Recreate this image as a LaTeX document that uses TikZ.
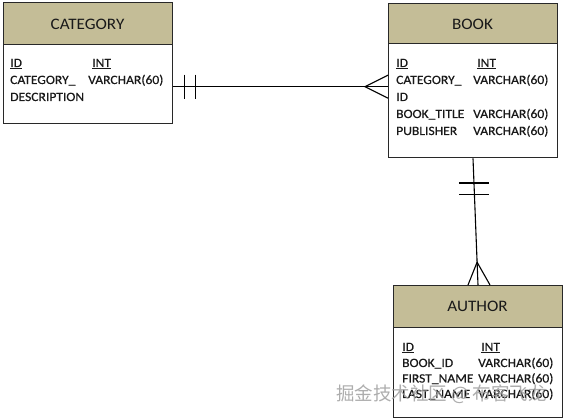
\documentclass[tikz,border=0pt]{standalone}
\usepackage{fontspec}
\setmainfont{Carlito}[FakeStretch=1.07]
\newfontfamily\erfont{Carlito}[FakeStretch=1.07,FakeBold=0.45]
\newfontfamily\cjkfont{Noto Sans CJK SC}
\usetikzlibrary{calc}
\definecolor{headtan}{RGB}{196,189,151}
\definecolor{boxline}{RGB}{40,40,40}
\definecolor{txt}{RGB}{25,25,25}
\begin{document}
\begin{tikzpicture}[x=1pt,y=-1pt,
  entity/.style={draw=boxline,line width=1.3pt,fill=white,rectangle,inner sep=0pt,anchor=north west,minimum width=169pt},
  headbar/.style={draw=boxline,line width=1.3pt,fill=headtan,rectangle,inner sep=0pt,anchor=north west,minimum width=169pt},
  etitle/.style={font=\fontsize{16}{16}\selectfont,anchor=base,inner sep=0pt,text=txt},
  field/.style={font=\erfont\fontsize{12.7}{12.7}\selectfont,anchor=base west,inner sep=0pt,text=txt},
  rel/.style={line width=1.1pt,black}]
\useasboundingbox (0,0) rectangle (566,419);
% CATEGORY
\node[entity,minimum height=121pt] (cat) at (3,2) {};
\node[headbar,minimum height=42pt] (cath) at (3,2) {};
\node[etitle] (catt) at (87.5,30) {CATEGORY};
\node[field] (c1a) at (10,67) {\underline{ID}};
\node[field] (c1b) at (92,67) {\underline{INT}};
\node[field] (c2a) at (10,84) {CATEGORY\_};
\node[field] (c2b) at (88,84) {VARCHAR(60)};
\node[field] (c3a) at (10,101) {DESCRIPTION};
% BOOK
\node[entity,minimum height=154pt] (book) at (388,3) {};
\node[headbar,minimum height=40pt] (bookh) at (388,3) {};
\node[etitle] (bookt) at (472.5,30) {BOOK};
\node[field] (b1a) at (396,67) {\underline{ID}};
\node[field] (b1b) at (477,67) {\underline{INT}};
\node[field] (b2a) at (396,84) {CATEGORY\_};
\node[field] (b2b) at (473,84) {VARCHAR(60)};
\node[field] (b3a) at (396,101) {ID};
\node[field] (b4a) at (396,118) {BOOK\_TITLE};
\node[field] (b4b) at (473,118) {VARCHAR(60)};
\node[field] (b5a) at (396,135) {PUBLISHER};
\node[field] (b5b) at (473,135) {VARCHAR(60)};
% AUTHOR
\node[entity,minimum height=132pt] (auth) at (393,285) {};
\node[headbar,minimum height=42pt] (authh) at (393,285) {};
\node[etitle] (autht) at (477.5,312) {AUTHOR};
\node[field] (a1a) at (402,351) {\underline{ID}};
\node[field] (a1b) at (481,351) {\underline{INT}};
\node[field] (a2a) at (402,367) {BOOK\_ID};
\node[field] (a2b) at (478,367) {VARCHAR(60)};
\node[field] (a3a) at (402,382.5) {FIRST\_NAME};
\node[field] (a3b) at (478,382.5) {VARCHAR(60)};
\node[field] (a4a) at (402,398) {LAST\_NAME};
\node[field] (a4b) at (478,398) {VARCHAR(60)};
% connector CATEGORY -- BOOK
\coordinate (r1s) at ($(cat.north east)+(0,84.7)$);
\coordinate (r1e) at ($(book.north west)+(0,83.7)$);
\draw[rel] (r1s) -- (r1e);
\draw[rel] ($(r1s)+(11,-12)$) -- ($(r1s)+(11,12)$);
\draw[rel] ($(r1s)+(22,-12)$) -- ($(r1s)+(22,12)$);
\draw[rel] ($(r1e)+(0,-11.5)$) -- ($(r1e)+(-23,0)$) -- ($(r1e)+(0,11.5)$);
% connector BOOK -- AUTHOR
\coordinate (r2s) at ($(book.south west)+(85,0)$);
\coordinate (r2e) at ($(auth.north west)+(85,0)$);
\draw[rel] (r2s) -- (r2e);
\coordinate (r2b1) at ($(r2s)!0.195!(r2e)$);
\coordinate (r2b2) at ($(r2s)!0.289!(r2e)$);
\coordinate (r2ap) at ($(r2s)!0.82!(r2e)$);
\draw[rel] ($(r2b1)+(-15,0)$) -- ($(r2b1)+(15,0)$);
\draw[rel] ($(r2b2)+(-15,0)$) -- ($(r2b2)+(15,0)$);
\draw[rel] ($(r2e)+(-10,0)$) -- (r2ap) -- ($(r2e)+(12,0)$);
% watermark
\node[font=\cjkfont\fontsize{18.5}{18.5}\selectfont,text=gray!75,opacity=0.85,anchor=base west,inner sep=0pt] (wm) at (336,401) {掘金技术社区 @ 布客飞龙};
\end{tikzpicture}
\end{document}
